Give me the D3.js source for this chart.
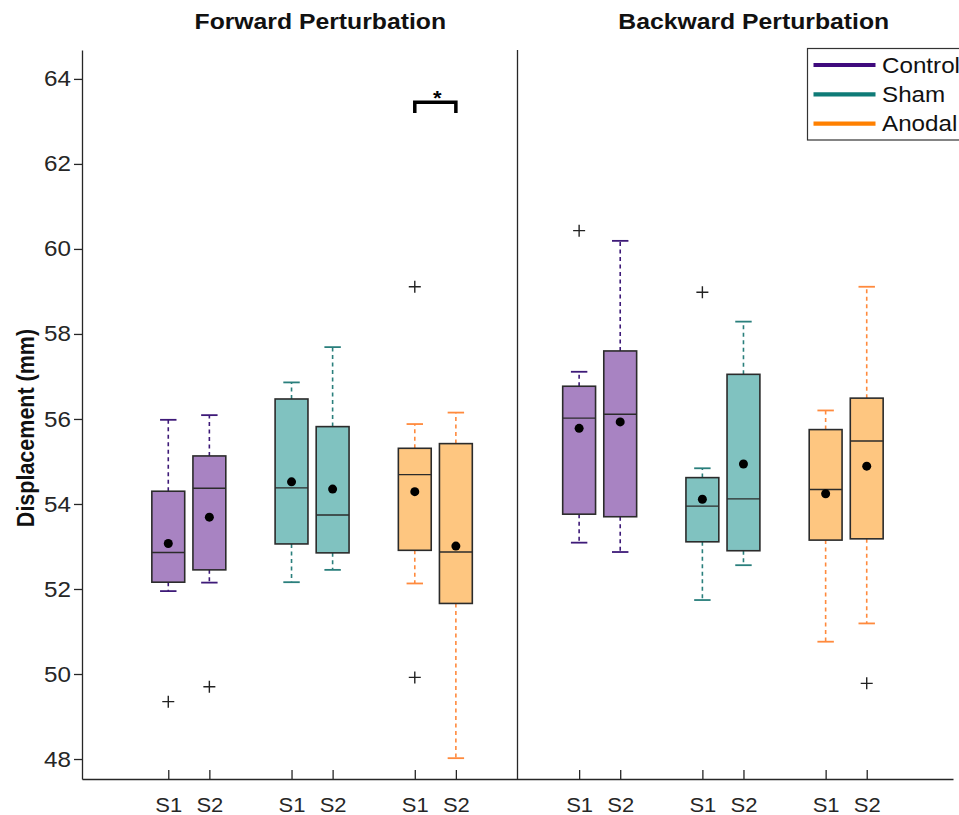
<!DOCTYPE html>
<html>
<head>
<meta charset="utf-8">
<script src="https://cdn.jsdelivr.net/npm/d3@7"></script>
<style>
  html, body { margin: 0; padding: 0; background: #fff; }
  svg { display: block; font-family: "Liberation Sans", Arial, sans-serif; }
</style>
</head>
<body>
<svg id="chart" width="959" height="815"></svg>
<script>
// ---- data ----
const panels = ["Forward Perturbation", "Backward Perturbation"];
const groups = ["Control", "Sham", "Anodal"];
const sessions = ["S1", "S2"];
const yTicks = [48, 50, 52, 54, 56, 58, 60, 62, 64];

// one entry per box, ordered panel > group > session
const lowerWhisker = [51.95, 52.15, 52.16, 52.45, 52.13, 48.02, 53.09, 52.87, 51.74, 52.56, 50.76, 51.19];
const q1           = [52.16, 52.45, 53.06, 52.85, 52.91, 51.66, 53.76, 53.70, 53.11, 52.90, 53.15, 53.18];
const medians      = [52.86, 54.37, 54.38, 53.74, 54.69, 52.87, 56.02, 56.11, 53.95, 54.12, 54.34, 55.48];
const q3           = [54.30, 55.13, 56.47, 55.82, 55.31, 55.42, 56.77, 57.60, 54.62, 57.05, 55.75, 56.49];
const upperWhisker = [55.98, 56.09, 56.86, 57.69, 55.88, 56.15, 57.11, 60.19, 54.84, 58.29, 56.20, 59.11];
const means        = [53.07, 53.69, 54.52, 54.35, 54.29, 53.01, 55.78, 55.93, 54.11, 54.94, 54.24, 54.89];
const outliers     = [[49.35], [49.70], [], [], [59.11, 49.92], [], [60.43], [], [58.98], [], [], [49.78]];

// significance bracket: Forward / Anodal, S1 vs S2
const sigBracket = { panel: 0, group: 2, low: 63.2, high: 63.45, label: "*" };

// ---- styles ----
const fillColor = { Control: "#a883c2", Sham: "#80c2c0", Anodal: "#fec680" };
const whiskerColor = { Control: "#3e1a78", Sham: "#2a7f7c", Anodal: "#ff8a3d" };
const legendColor = { Control: "#3f0a7d", Sham: "#0f7b77", Anodal: "#ff8000" };
const SX = 1.1; // horizontal stretch applied to text glyphs
const ink = "#262626";

const svg = d3.select("#chart");

// slot index along the x axis for a box
const slotOf = (p, g, s) => p * 10 + g * 3 + s + 1;

const x = d3.scaleLinear().domain([-1.1, 20.1]).range([82, 953]);
const y = d3.scaleLinear().domain([47.53, 64.68]).range([779, 50]);

// build box records
const boxes = [];
panels.forEach((pn, p) => groups.forEach((gn, g) => sessions.forEach((sn, s) => {
  const i = boxes.length;
  boxes.push({
    panel: p, group: gn, session: sn, slot: slotOf(p, g, s),
    lo: lowerWhisker[i], q1: q1[i], med: medians[i], q3: q3[i], hi: upperWhisker[i],
    mean: means[i], out: outliers[i]
  });
})));

const boxW = 0.8, capW = 0.4;

// ---- axes ----
const yAxis = d3.axisLeft(y).tickValues(yTicks).tickSizeInner(8).tickSizeOuter(0).tickPadding(2);
const gy = svg.append("g").attr("transform", `translate(${x.range()[0]},0)`).call(yAxis);
gy.select(".domain").attr("stroke", ink).attr("stroke-width", 1.3);
gy.selectAll(".tick line").attr("stroke", ink).attr("stroke-width", 1.3);
gy.selectAll(".tick text").attr("font-size", 22).attr("fill", ink)
  .attr("font-family", "Liberation Sans, Arial, sans-serif")
  .attr("transform", `scale(${SX},1)`);

const xAxis = d3.axisBottom(x).tickValues(boxes.map(b => b.slot))
  .tickFormat(v => boxes.find(b => b.slot === v).session)
  .tickSizeInner(-9).tickSizeOuter(0).tickPadding(19);
const gx = svg.append("g").attr("transform", `translate(0,${y.range()[0]})`).call(xAxis);
gx.select(".domain").attr("stroke", ink).attr("stroke-width", 1.3);
gx.selectAll(".tick line").attr("stroke", ink).attr("stroke-width", 1.3);
gx.selectAll(".tick text").attr("font-size", 20).attr("fill", ink)
  .attr("font-family", "Liberation Sans, Arial, sans-serif")
  .attr("transform", `scale(${SX},1)`);

// panel divider
svg.append("line")
  .attr("x1", x(9.5)).attr("x2", x(9.5))
  .attr("y1", y.range()[1]).attr("y2", y.range()[0])
  .attr("stroke", ink).attr("stroke-width", 1.3);

// ---- boxes ----
const gb = svg.append("g");
boxes.forEach(b => {
  const g = gb.append("g");
  const cx = x(b.slot);
  const wc = whiskerColor[b.group];
  // dashed whiskers
  [[b.q3, b.hi], [b.q1, b.lo]].forEach(([a, c]) => {
    g.append("line").attr("x1", cx).attr("x2", cx).attr("y1", y(a)).attr("y2", y(c))
      .attr("stroke", wc).attr("stroke-width", 1.6).attr("stroke-dasharray", "4,3.5");
  });
  // caps
  [b.hi, b.lo].forEach(v => {
    g.append("line")
      .attr("x1", x(b.slot - capW / 2)).attr("x2", x(b.slot + capW / 2))
      .attr("y1", y(v)).attr("y2", y(v))
      .attr("stroke", wc).attr("stroke-width", 1.8);
  });
  // box
  g.append("rect")
    .attr("x", x(b.slot - boxW / 2)).attr("width", x(b.slot + boxW / 2) - x(b.slot - boxW / 2))
    .attr("y", y(b.q3)).attr("height", y(b.q1) - y(b.q3))
    .attr("fill", fillColor[b.group]).attr("stroke", "#2b2b2b").attr("stroke-width", 1.6);
  // median
  g.append("line")
    .attr("x1", x(b.slot - boxW / 2)).attr("x2", x(b.slot + boxW / 2))
    .attr("y1", y(b.med)).attr("y2", y(b.med))
    .attr("stroke", "#2b2b2b").attr("stroke-width", 1.4);
  // mean
  g.append("circle").attr("cx", cx).attr("cy", y(b.mean)).attr("r", 4.5).attr("fill", "#000");
  // outliers
  b.out.forEach(v => {
    const oy = y(v), s = 6;
    g.append("path")
      .attr("d", `M${cx - s},${oy}H${cx + s}M${cx},${oy - s}V${oy + s}`)
      .attr("stroke", "#222").attr("stroke-width", 1.4).attr("fill", "none");
  });
});

// ---- significance bracket ----
{
  const sl = slotOf(sigBracket.panel, sigBracket.group, 0);
  const sr = slotOf(sigBracket.panel, sigBracket.group, 1);
  svg.append("path")
    .attr("d", `M${x(sl)},${y(sigBracket.low)}V${y(sigBracket.high)}H${x(sr)}V${y(sigBracket.low)}`)
    .attr("fill", "none").attr("stroke", "#000").attr("stroke-width", 3.5);
  svg.append("text")
    .attr("transform", `translate(${(x(sl) + x(sr)) / 2 + 2},${y(sigBracket.high) + 3}) scale(${SX},1)`)
    .attr("text-anchor", "middle").attr("font-size", 20).attr("font-weight", "bold")
    .text(sigBracket.label);
}

// ---- titles ----
const titleX = [4.7, 15.25];
panels.forEach((t, i) => {
  svg.append("text")
    .attr("transform", `translate(${x(titleX[i])},29) scale(${SX},1)`)
    .attr("text-anchor", "middle").attr("font-size", 22.5).attr("font-weight", "bold")
    .attr("fill", "#111").text(t);
});

// y label
svg.append("text")
  .attr("transform", `translate(34,428) scale(${SX},1) rotate(-90)`)
  .attr("text-anchor", "middle").attr("font-size", 21.5).attr("font-weight", "bold")
  .attr("fill", "#111").text("Displacement (mm)");

// ---- legend ----
const lg = svg.append("g").attr("transform", "translate(807.5,48.5)");
lg.append("rect").attr("width", 200).attr("height", 91.5)
  .attr("fill", "#fff").attr("stroke", "#333").attr("stroke-width", 1.2);
groups.forEach((gn, i) => {
  const ly = 16.5 + i * 29.3;
  lg.append("line").attr("x1", 6).attr("x2", 68).attr("y1", ly).attr("y2", ly)
    .attr("stroke", legendColor[gn]).attr("stroke-width", 4.2);
  lg.append("text")
    .attr("transform", `translate(74.5,${ly + 7.8}) scale(${SX},1)`)
    .attr("font-size", 22).attr("fill", "#111").text(gn);
});
</script>
</body>
</html>
